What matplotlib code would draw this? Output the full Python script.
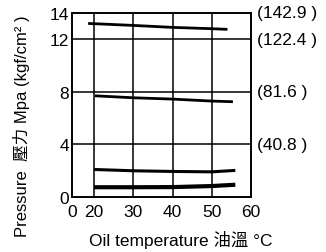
import matplotlib
matplotlib.use("Agg")
import matplotlib.pyplot as plt
import numpy as np

plt.rcParams['font.family'] = ['Liberation Sans', 'Noto Sans CJK TC', 'DejaVu Sans']

# x positions (degC) and pressure (MPa) of the four curves
x_top = [18.5, 30, 40, 50, 54]
y_top = [13.2, 13.05, 12.9, 12.8, 12.75]
x_8 = [20.2, 30, 40, 50, 55.4]
y_8 = [7.7, 7.55, 7.45, 7.3, 7.25]
x_2 = [20, 30, 40, 50, 56]
y_2 = [2.1, 2.0, 1.95, 1.92, 2.03]
x_1 = [20, 30, 40, 50, 56]
y_1 = [0.75, 0.75, 0.76, 0.84, 0.94]

x_ticks = [14.4, 20, 30, 40, 50, 60]
x_labels = ['0', '20', '30', '40', '50', '60']
y_ticks = [0, 4, 8, 12, 14]
kgf_ticks = [4, 8, 12, 14]
kgf_labels = ['(40.8 )', '(81.6 )', '(122.4 )', '(142.9 )']

fig = plt.figure(figsize=(3.26, 2.53), dpi=100)
ax = fig.add_axes([0.221, 0.217, 0.549, 0.728])

ax.plot(x_top, y_top, color='black', lw=2.0, solid_capstyle='butt')
ax.plot(x_8, y_8, color='black', lw=2.0, solid_capstyle='butt')
ax.plot(x_2, y_2, color='black', lw=2.2, solid_capstyle='butt')
ax.plot(x_1, y_1, color='black', lw=3.0, solid_capstyle='butt')

for gx in [20, 30, 40, 50]:
    ax.axvline(gx, color='black', lw=1.1, zorder=0)
for gy in [4, 8, 12]:
    ax.axhline(gy, color='black', lw=1.1, zorder=0)

ax.set_xlim(14.4, 60)
ax.set_ylim(0, 14)
ax.set_xticks(x_ticks)
ax.set_xticklabels(x_labels)
ax.set_yticks(y_ticks)
ax.tick_params(length=0, labelsize=12.5)
ax.tick_params(axis='x', pad=5)
ax.tick_params(axis='y', pad=2)
for s in ax.spines.values():
    s.set_linewidth(1.4)

for v, lab in zip(kgf_ticks, kgf_labels):
    ax.text(1.035, v, lab, transform=ax.get_yaxis_transform(), fontsize=12.5,
            ha='left', va='center')

fig.text(0.555, 0.052, 'Oil temperature 油溫 °C', fontsize=12.5,
         ha='center', va='center')
fig.text(0.065, 0.5, 'Pressure  壓力 Mpa (kgf/cm² )', fontsize=12,
         rotation=90, ha='center', va='center')

fig.savefig('out.png', dpi=100)
